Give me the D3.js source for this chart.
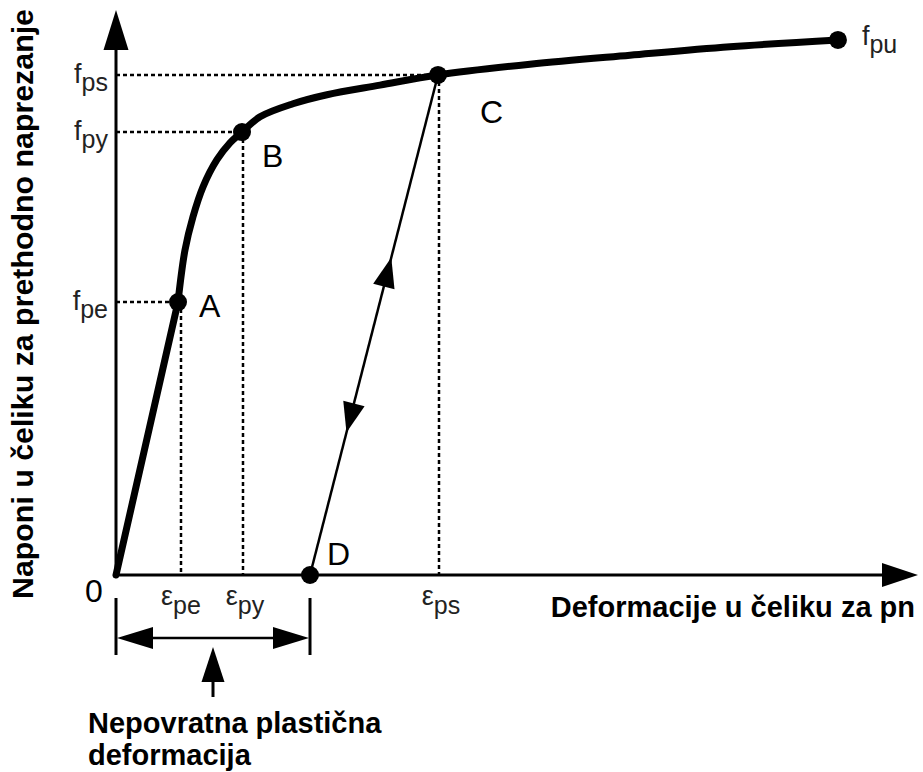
<!DOCTYPE html>
<html><head><meta charset="utf-8">
<script src="https://cdn.jsdelivr.net/npm/d3@7/dist/d3.min.js"></script>
<style>html,body{margin:0;padding:0;background:#fff;} svg{display:block;}</style>
</head><body>
<svg id="chart" width="923" height="772"></svg>
<script>
// ---------- data (abstract units: strain 0..100, stress 0..100) ----------
const elasticStrain = [0, 7.73];
const elasticStress = [0, 48.3];
const curveStrain = [7.73, 8.60, 9.60, 10.85, 12.59, 14.21, 15.71, 17.96, 22.07, 26.31, 32.92, 40.15, 51.62, 64.09, 76.56, 90.02];
const curveStress = [48.3, 57.5, 63.4, 68.7, 73.5, 76.5, 78.4, 81.1, 83.4, 85.0, 86.7, 88.5, 90.4, 92.0, 93.5, 94.7];
const pointNames  = ["A", "B", "C"];
const pointStrain = [7.73, 15.71, 40.15];
const pointStress = [48.3, 78.4, 88.5];
const ultimateStrain = 90.02, ultimateStress = 94.7;
const residualName = "D", residualStrain = 24.19;
const stressTickBase = ["f", "f", "f"];
const stressTickSub  = ["pe", "py", "ps"];
const strainTickBase = ["ε", "ε", "ε"];
const strainTickSub  = ["pe", "py", "ps"];
const ultimateBase = "f", ultimateSub = "pu";
const originLabel = "0";
const arrowFractions = [0.635, 0.285];   // along D -> C
const arrowDirections = [1, -1];         // 1 = towards C, -1 = towards D
const yTitle = "Naponi u čeliku za prethodno naprezanje";
const xTitle = "Deformacije u čeliku za pn";
const noteLines = ["Nepovratna plastična", "deformacija"];

// ---------- layout ----------
const svg = d3.select("#chart");
const x = d3.scaleLinear().domain([0, 100]).range([116, 918]);
const y = d3.scaleLinear().domain([0, 100]).range([575, 10]);
const FONT = "'Liberation Sans', Arial, Helvetica, sans-serif";
const labelOffsets = [[21, 15], [20, 35], [42, 48]];

function tri(g, tipX, tipY, dirX, dirY, len, half) {
  const bx = tipX - dirX * len, by = tipY - dirY * len;
  const px = -dirY, py = dirX;
  g.append("path")
    .attr("d", `M${tipX},${tipY}L${bx + px * half},${by + py * half}L${bx - px * half},${by - py * half}Z`)
    .attr("fill", "#000");
}

// dotted guides
const guides = svg.append("g").attr("stroke", "#000").attr("stroke-width", 2.5)
  .attr("stroke-dasharray", "4,3").attr("fill", "none");
pointStrain.forEach((s, i) => {
  guides.append("line").attr("x1", x(0)).attr("x2", x(s)).attr("y1", y(pointStress[i])).attr("y2", y(pointStress[i]));
  guides.append("line").attr("x1", x(s) + (i === 0 ? 3 : 1)).attr("x2", x(s) + (i === 0 ? 3 : 1)).attr("y1", y(pointStress[i])).attr("y2", y(0));
});

// axes
const axes = svg.append("g");
axes.append("line").attr("x1", x(0)).attr("x2", x(0)).attr("y1", y(0) + 1.5).attr("y2", y(100) + 38)
  .attr("stroke", "#000").attr("stroke-width", 3);
tri(axes, x(0), y(100), 0, -1, 40, 12.5);
axes.append("line").attr("x1", x(0) - 1.5).attr("x2", x(100) - 34).attr("y1", y(0)).attr("y2", y(0))
  .attr("stroke", "#000").attr("stroke-width", 3);
tri(axes, x(100), y(0), 1, 0, 36, 12);

// unloading / reloading line D -> C
const dX = x(residualStrain), dY = y(0), cX = x(pointStrain[2]), cY = y(pointStress[2]);
svg.append("line").attr("x1", dX).attr("y1", dY).attr("x2", cX).attr("y2", cY)
  .attr("stroke", "#000").attr("stroke-width", 2.5);
const L = Math.hypot(cX - dX, cY - dY), ux = (cX - dX) / L, uy = (cY - dY) / L;
arrowFractions.forEach((f, i) => {
  const tx = dX + (cX - dX) * f, ty = dY + (cY - dY) * f;
  tri(svg, tx, ty, ux * arrowDirections[i], uy * arrowDirections[i], 30, 11);
});

// stress-strain curve
svg.append("path")
  .attr("d", d3.line().x(d => x(d[0])).y(d => y(d[1]))(elasticStrain.map((s, i) => [s, elasticStress[i]])))
  .attr("stroke", "#000").attr("stroke-width", 7).attr("fill", "none").attr("stroke-linecap", "round");
svg.append("path")
  .attr("d", d3.line().curve(d3.curveCatmullRom.alpha(0.5)).x(d => x(d[0])).y(d => y(d[1]))(curveStrain.map((s, i) => [s, curveStress[i]])))
  .attr("stroke", "#000").attr("stroke-width", 7).attr("fill", "none").attr("stroke-linecap", "round");

// dots
const dots = pointStrain.map((s, i) => [s, pointStress[i]]).concat([[ultimateStrain, ultimateStress], [residualStrain, 0]]);
svg.append("g").selectAll("circle").data(dots).join("circle")
  .attr("cx", d => x(d[0])).attr("cy", d => y(d[1])).attr("r", 9).attr("fill", "#000");

// point labels
pointNames.forEach((n, i) => {
  svg.append("text").attr("x", x(pointStrain[i]) + labelOffsets[i][0]).attr("y", y(pointStress[i]) + labelOffsets[i][1])
    .attr("font-family", FONT).attr("font-size", 32).text(n);
});
svg.append("text").attr("x", x(residualStrain) + 17).attr("y", y(0) - 10)
  .attr("font-family", FONT).attr("font-size", 32).text(residualName);
svg.append("text").attr("x", x(0) - 31).attr("y", y(0) + 27)
  .attr("font-family", FONT).attr("font-size", 32).text(originLabel);

// stress tick labels
pointStress.forEach((v, i) => {
  const t = svg.append("text").attr("x", x(0) - 8).attr("y", y(v) + 8).attr("text-anchor", "end")
    .attr("font-family", FONT).attr("font-size", 27).attr("fill", "#222");
  t.append("tspan").text(stressTickBase[i]);
  t.append("tspan").attr("dy", 8).attr("font-size", 25).text(stressTickSub[i]);
});
// strain tick labels
pointStrain.forEach((s, i) => {
  const t = svg.append("text").attr("x", x(s) + 3).attr("y", y(0) + 30).attr("text-anchor", "middle")
    .attr("font-family", FONT).attr("font-size", 27).attr("fill", "#222");
  t.append("tspan").text(strainTickBase[i]);
  t.append("tspan").attr("dy", 9).attr("font-size", 25).text(strainTickSub[i]);
});
// ultimate label
{
  const t = svg.append("text").attr("x", x(ultimateStrain) + 24).attr("y", y(ultimateStress) + 5)
    .attr("font-family", FONT).attr("font-size", 27).attr("fill", "#222");
  t.append("tspan").text(ultimateBase);
  t.append("tspan").attr("dy", 8).attr("font-size", 25).text(ultimateSub);
}

// axis titles
svg.append("text").attr("transform", `translate(33,${(8 + 600) / 2}) rotate(-90)`)
  .attr("text-anchor", "middle").attr("font-family", FONT).attr("font-weight", "bold")
  .attr("font-size", 30).attr("textLength", 590).attr("lengthAdjust", "spacingAndGlyphs").text(yTitle);
svg.append("text").attr("x", 915).attr("y", 617).attr("text-anchor", "end")
  .attr("font-family", FONT).attr("font-weight", "bold").attr("font-size", 29).text(xTitle);

// irreversible deformation bracket
const br = svg.append("g").attr("stroke", "#000");
[x(0), dX].forEach(px => br.append("line").attr("x1", px).attr("x2", px).attr("y1", 598).attr("y2", 655).attr("stroke-width", 3));
br.append("line").attr("x1", x(0) + 20).attr("x2", dX - 20).attr("y1", 638).attr("y2", 638).attr("stroke-width", 2.5);
tri(svg, x(0) + 1, 638, -1, 0, 36, 11);
tri(svg, dX - 1, 638, 1, 0, 36, 11);
const midX = (x(0) + dX) / 2;
svg.append("line").attr("x1", midX).attr("x2", midX).attr("y1", 670).attr("y2", 697).attr("stroke", "#000").attr("stroke-width", 3);
tri(svg, midX, 647, 0, -1, 35, 11.5);
noteLines.forEach((l, i) => {
  svg.append("text").attr("x", 88).attr("y", 733 + i * 32)
    .attr("font-family", FONT).attr("font-weight", "bold").attr("font-size", 29).text(l);
});
</script>
</body></html>
